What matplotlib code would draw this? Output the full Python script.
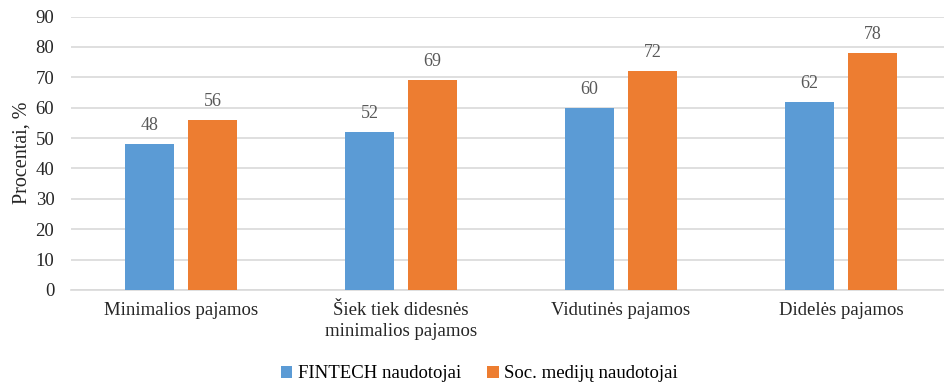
import numpy as np
import matplotlib.pyplot as plt

categories = ["Minimalios pajamos", "Šiek tiek didesnės\nminimalios pajamos",
              "Vidutinės pajamos", "Didelės pajamos"]
fintech = [48, 52, 60, 62]
soc = [56, 69, 72, 78]
series_names = ["FINTECH naudotojai", "Soc. medijų naudotojai"]
colors = ["#5B9BD5", "#ED7D31"]

plt.rcParams['font.family'] = ['Liberation Serif', 'DejaVu Serif']
plt.rcParams['font.size'] = 13

fig = plt.figure(figsize=(9.44, 3.84), dpi=100)
# plot area runs a little past the right edge, as in the original
ax = fig.add_axes([0.0752, 0.245, 0.932, 0.712])

x = np.arange(len(categories))
w = 0.223
off = 0.143
b1 = ax.bar(x - off, fintech, w, color=colors[0], label=series_names[0], zorder=3)
b2 = ax.bar(x + off, soc, w, color=colors[1], label=series_names[1], zorder=3)

for bars, vals in ((b1, fintech), (b2, soc)):
    for rect, v in zip(bars, vals):
        ax.text(rect.get_x() + rect.get_width() / 2, v + 3.3, str(v),
                ha='center', va='bottom', color='#595959', fontsize=13)

ax.set_xlim(-0.5, len(categories) - 0.5)
ax.set_ylim(0, 90)
ax.set_yticks(range(0, 91, 10))
ax.set_xticks(x)
ax.set_xticklabels(categories, color='#262626', fontsize=13.5, linespacing=1.3)
ax.tick_params(axis='y', labelsize=13.5, colors='#262626', length=0, pad=12)
ax.tick_params(axis='x', length=0, pad=9)
ax.set_ylabel("Procentai, %", fontsize=14.5, color='#262626', labelpad=3)
ax.yaxis.grid(True, color='#D9D9D9', linewidth=1.2, zorder=0)
for s in ['top', 'right', 'left']:
    ax.spines[s].set_visible(False)
ax.spines['bottom'].set_color('#D9D9D9')
ax.spines['bottom'].set_linewidth(1.2)

fig.legend(loc='lower center', bbox_to_anchor=(0.508, -0.04), ncol=2, frameon=False,
           fontsize=13.5, handlelength=0.6, handleheight=0.6, handletextpad=0.3,
           columnspacing=1.4)

fig.savefig("out.png", dpi=100)
